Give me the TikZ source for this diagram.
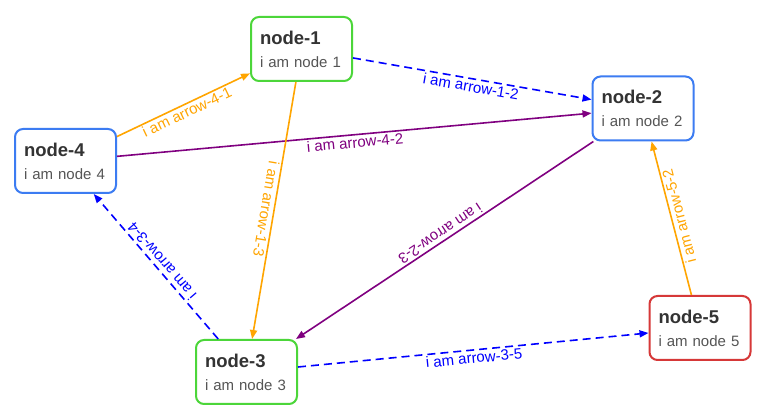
\documentclass[tikz,border=0pt]{standalone}
\usepackage{fontspec}
\setmainfont{Liberation Sans}
\usetikzlibrary{arrows.meta}
\definecolor{ngreen}{HTML}{4CD63A}
\definecolor{nblue}{HTML}{3C7CF2}
\definecolor{nred}{HTML}{D63838}
\definecolor{ttlc}{HTML}{333333}
\definecolor{subc}{HTML}{555555}
\definecolor{aorange}{HTML}{FFA500}
\definecolor{ablue}{HTML}{0000FF}
\definecolor{apurple}{HTML}{800080}
\newcommand\ntitle[1]{{\fontsize{18.5}{23}\selectfont\bfseries\color{ttlc}#1}}
\begin{document}
\begin{tikzpicture}[x=1pt,y=-1pt,
  box/.style={draw=#1, line width=2pt, rounded corners=8pt, fill=white,
    minimum width=101pt, minimum height=64pt, text width=83pt, align=left,
    inner sep=0pt, font=\fontsize{15}{23}\selectfont, text=subc},
  edge/.style={draw=#1, line width=1.6pt, -{Triangle[length=9pt,width=7pt]}},
  dashedge/.style={dash pattern=on 8pt off 5pt},
  lbl/.style={midway, sloped, allow upside down, below, inner sep=1.5pt,
    font=\fontsize{15}{18}\selectfont, text=#1}
]
\fill[white] (0,0) rectangle (772,419);
\useasboundingbox (0,0) rectangle (772,419);

\node[box=ngreen] (n1) at (301.5,49) {\ntitle{node-1}\\i am node 1};
\node[box=nblue]  (n2) at (643,108.5) {\ntitle{node-2}\\i am node 2};
\node[box=nblue]  (n4) at (65.5,161) {\ntitle{node-4}\\i am node 4};
\node[box=ngreen] (n3) at (246.5,372) {\ntitle{node-3}\\i am node 3};
\node[box=nred]   (n5) at (700,328) {\ntitle{node-5}\\i am node 5};

\draw[edge=aorange] (n4) -- (n1) node[lbl=aorange]{i am arrow-4-1};
\draw[edge=ablue, dashedge] (n1) -- (n2) node[lbl=ablue]{i am arrow-1-2};
\draw[edge=apurple] (n4) -- (n2) node[lbl=apurple]{i am arrow-4-2};
\draw[edge=aorange] (n1) -- (n3) node[lbl=aorange]{i am arrow-1-3};
\draw[edge=apurple] (n2) -- (n3) node[lbl=apurple]{i am arrow-2-3};
\draw[edge=ablue, dashedge] (n3) -- (n4) node[lbl=ablue]{i am arrow-3-4};
\draw[edge=ablue, dashedge] (n3) -- (n5) node[lbl=ablue]{i am arrow-3-5};
\draw[edge=aorange] (n5) -- (n2) node[lbl=aorange]{i am arrow-5-2};
\end{tikzpicture}
\end{document}
